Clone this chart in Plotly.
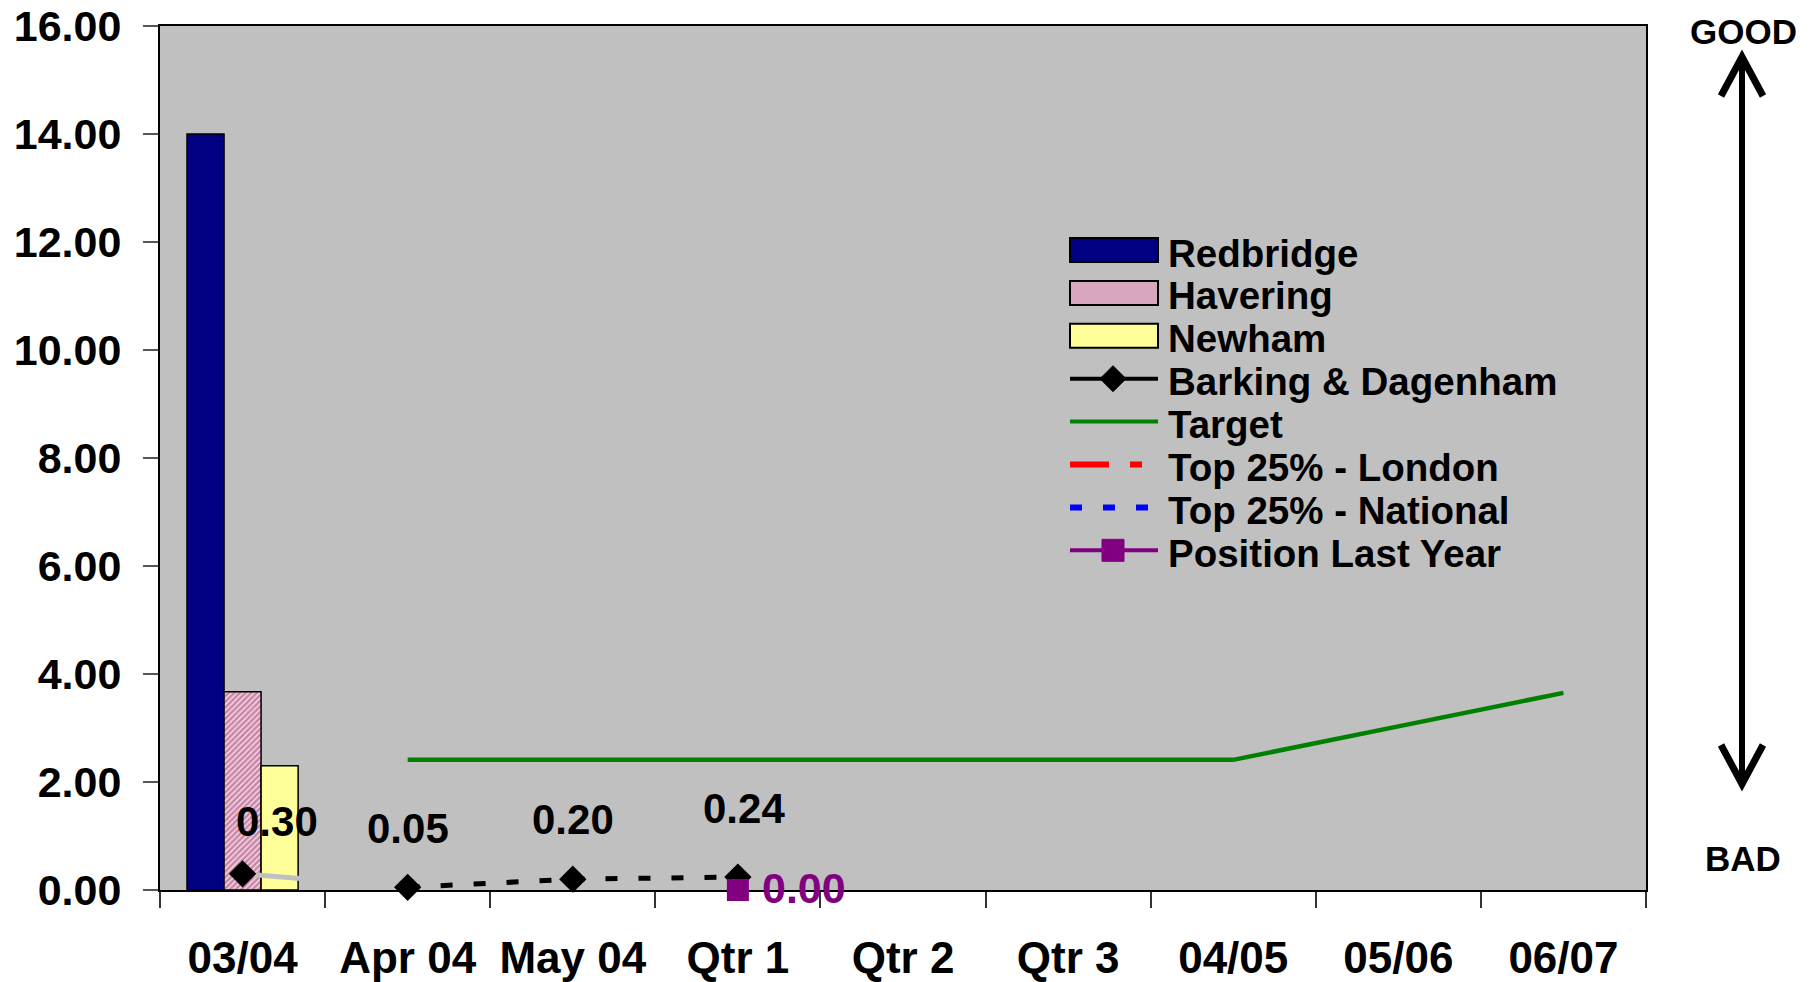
import plotly.graph_objects as go

# ---------------- data ----------------
categories = ["03/04", "Apr 04", "May 04", "Qtr 1", "Qtr 2", "Qtr 3", "04/05", "05/06", "06/07"]
redbridge = [14.00, None, None, None, None, None, None, None, None]
havering = [3.67, None, None, None, None, None, None, None, None]
newham = [2.30, None, None, None, None, None, None, None, None]
barking = [0.30, 0.05, 0.20, 0.24, None, None, None, None, None]
target = [None, 2.41, 2.41, 2.41, 2.41, 2.41, 2.41, 3.03, 3.65]
top25_london = [None] * 9
top25_national = [None] * 9
position_last_year = [None, None, None, 0.00, None, None, None, None, None]
series_names = ["Redbridge", "Havering", "Newham", "Barking & Dagenham", "Target",
                "Top 25% - London", "Top 25% - National", "Position Last Year"]
y_ticks = [0, 2, 4, 6, 8, 10, 12, 14, 16]

# ---------------- geometry (page has an 8px body margin) ----------------
OFF = 8
W, H = 1816 - OFF, 982 - OFF
# plot area in screen pixels
SL, SR, ST, SB = 160, 1646, 26, 890
L, R, T, B = SL - OFF, SR - OFF, ST - OFF, SB - OFF


def PX(x):  # screen pixel x -> paper
    return (x - SL) / (SR - SL)


def PY(y):  # screen pixel y -> paper
    return (SB - y) / (SB - ST)


BOLD = "Liberation Sans, Arial, sans-serif"

fig = go.Figure()

fig.add_trace(go.Bar(x=categories, y=redbridge, name=series_names[0],
                     marker=dict(color="#000080", line=dict(color="black", width=1.5))))
fig.add_trace(go.Bar(x=categories, y=havering, name=series_names[1],
                     marker=dict(color="white", line=dict(color="black", width=1.5),
                                 pattern=dict(shape="/", fgcolor="#993366", bgcolor="#f4d4e4",
                                              size=4, solidity=0.6))))
fig.add_trace(go.Bar(x=categories, y=newham, name=series_names[2],
                     marker=dict(color="#ffff99", line=dict(color="black", width=1.5))))

# Target
fig.add_trace(go.Scatter(x=categories, y=target, name=series_names[4], mode="lines",
                         line=dict(color="#008000", width=4.5), cliponaxis=False))
# Top 25% lines (no data)
fig.add_trace(go.Scatter(x=categories, y=top25_london, name=series_names[5], mode="lines",
                         line=dict(color="red", width=5, dash="39px,21px,12px,21px")))
fig.add_trace(go.Scatter(x=categories, y=top25_national, name=series_names[6], mode="lines",
                         line=dict(color="blue", width=5, dash="12px,21px")))

# Barking & Dagenham: first segment in background grey, then black dashed
fig.add_trace(go.Scatter(x=categories[0:2], y=barking[0:2], mode="lines",
                         line=dict(color="#c0c0c0", width=5), showlegend=False, cliponaxis=False))
fig.add_trace(go.Scatter(x=categories[1:4], y=barking[1:4], mode="lines",
                         line=dict(color="black", width=5, dash="12px,21px"),
                         showlegend=False, cliponaxis=False))
fig.add_trace(go.Scatter(x=categories, y=barking, name=series_names[3], mode="markers",
                         marker=dict(symbol="diamond", size=21, color="black"), cliponaxis=False))

# Position last year
fig.add_trace(go.Scatter(x=categories, y=position_last_year, name=series_names[7],
                         mode="markers",
                         marker=dict(symbol="square", size=22, color="#800080"),
                         cliponaxis=False))

annotations = []
# data labels for Barking & Dagenham
label_xshift = [34, 0, 0, 6]
label_yshift = [52, 59, 60, 69]
k = 0
for c, v in zip(categories, barking):
    if v is None:
        continue
    annotations.append(dict(x=c, y=v, xref="x", yref="y", text=f"{v:.2f}", showarrow=False,
                            xshift=label_xshift[k], yshift=label_yshift[k],
                            font=dict(family=BOLD, size=42, color="black", weight="bold")))
    k += 1
# data label for Position Last Year
for c, v in zip(categories, position_last_year):
    if v is None:
        continue
    annotations.append(dict(x=c, y=v, xref="x", yref="y", text=f"{v:.2f}", showarrow=False,
                            xanchor="left", xshift=22, yshift=2,
                            font=dict(family=BOLD, size=43, color="#800080", weight="bold")))

# GOOD / BAD
annotations.append(dict(x=PX(1743), y=PY(10), xref="paper", yref="paper", text="GOOD",
                        showarrow=False, xanchor="center", yanchor="top",
                        font=dict(family=BOLD, size=35, color="black", weight="bold")))
annotations.append(dict(x=PX(1743), y=PY(858), xref="paper", yref="paper", text="BAD",
                        showarrow=False, xanchor="center", yanchor="middle",
                        font=dict(family=BOLD, size=35, color="black", weight="bold")))

shapes = []
# double arrow
shapes.append(dict(type="line", xref="paper", yref="paper", x0=PX(1742), x1=PX(1742),
                   y0=PY(58), y1=PY(783), line=dict(color="black", width=6)))
shapes.append(dict(type="path", xref="paper", yref="paper",
                   path=f"M{PX(1721)},{PY(96)} L{PX(1742)},{PY(57)} L{PX(1763)},{PY(96)}",
                   line=dict(color="black", width=7)))
shapes.append(dict(type="path", xref="paper", yref="paper",
                   path=f"M{PX(1721)},{PY(745)} L{PX(1742)},{PY(784)} L{PX(1763)},{PY(745)}",
                   line=dict(color="black", width=7)))

# manual legend
row_y = [250 + 42.9 * i for i in range(len(series_names))]
sx0, sx1, smid = 1070, 1158, 1113
bar_fills = ["#000080", "#d9a6bf", "#ffff99"]
for i in range(3):
    y = row_y[i]
    shapes.append(dict(type="rect", xref="paper", yref="paper", x0=PX(sx0), x1=PX(sx1),
                       y0=PY(y + 12), y1=PY(y - 12), fillcolor=bar_fills[i],
                       line=dict(color="black", width=2)))
line_styles = {
    3: dict(color="black", width=4),
    4: dict(color="#008000", width=4),
    5: dict(color="red", width=6, dash="39px,21px,12px,21px"),
    6: dict(color="blue", width=6, dash="12px,21px"),
    7: dict(color="#800080", width=4),
}
for i, st in line_styles.items():
    y = row_y[i]
    shapes.append(dict(type="line", xref="paper", yref="paper", x0=PX(sx0), x1=PX(sx1),
                       y0=PY(y), y1=PY(y), line=st))
# legend markers
y = row_y[3]
shapes.append(dict(type="path", xref="paper", yref="paper",
                   path=(f"M{PX(smid)},{PY(y - 13)} L{PX(smid + 13)},{PY(y)} "
                         f"L{PX(smid)},{PY(y + 13)} L{PX(smid - 13)},{PY(y)} Z"),
                   fillcolor="black", line=dict(color="black", width=1)))
y = row_y[7]
shapes.append(dict(type="rect", xref="paper", yref="paper", x0=PX(smid - 11), x1=PX(smid + 11),
                   y0=PY(y + 11), y1=PY(y - 11), fillcolor="#800080",
                   line=dict(color="#800080", width=1)))
for i, name in enumerate(series_names):
    annotations.append(dict(x=PX(1166), y=PY(row_y[i] + 3), xref="paper", yref="paper", text=name,
                            showarrow=False, xanchor="left", yanchor="middle",
                            font=dict(family=BOLD, size=38.5, color="black", weight="bold")))

fig.update_layout(
    width=W, height=H,
    margin=dict(l=L, r=W - R, t=T, b=H - B, pad=0, autoexpand=False),
    paper_bgcolor="white", plot_bgcolor="#c0c0c0",
    barmode="group", bargap=0.327, bargroupgap=0,
    showlegend=False,
    annotations=annotations, shapes=shapes,
)
fig.update_xaxes(type="category", categoryorder="array", categoryarray=categories,
                 range=[-0.5, len(categories) - 0.5], automargin=False,
                 showline=True, linecolor="black", linewidth=2, mirror=True,
                 ticks="outside", tickson="boundaries", ticklen=16, tickcolor="#333333", tickwidth=2,
                 showgrid=False, zeroline=False, layer="below traces", tickangle=0,
                 tickfont=dict(family=BOLD, size=44, color="black", weight="bold"),
                 ticklabelstandoff=28)
fig.update_yaxes(range=[0, 16], tickvals=y_ticks, ticktext=[f"{v:.2f}" for v in y_ticks],
                 automargin=False, ticklabeloverflow="allow",
                 showline=True, linecolor="black", linewidth=2, mirror=True,
                 ticks="outside", ticklen=15, tickcolor="#555555", tickwidth=1.5,
                 showgrid=False, zeroline=False, layer="below traces",
                 tickfont=dict(family=BOLD, size=43, color="black", weight="bold"),
                 ticklabelstandoff=13)

fig.write_html("out.html")
